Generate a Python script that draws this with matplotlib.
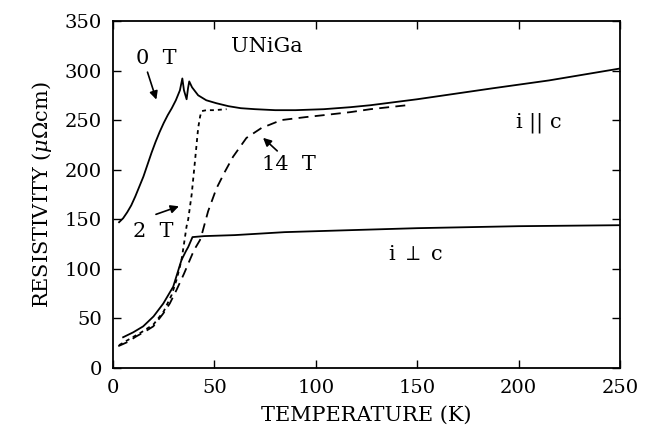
import numpy as np
import matplotlib.pyplot as plt

# UNiGa resistivity vs temperature
# i || c, zero field
t_0T = [3, 5, 7, 9, 11, 13, 15, 17, 19, 21, 23, 25, 27, 29, 31, 33, 34.2, 35, 36.3, 37, 37.6,
        39, 42, 46, 51, 57, 63, 70, 80, 90, 104, 117, 127, 150, 187, 215, 250]
r_0T = [147, 151, 157, 164, 173, 183, 193, 205, 217, 228, 238, 247, 255, 262, 270, 280, 292, 280, 271, 282, 289,
        283, 275, 270, 267, 264, 262, 261, 260, 260, 261, 263, 265, 271, 282, 290, 302]

# 2 T (dotted)
t_2T = [3, 8, 14, 20, 25, 29, 31.5, 33.8, 35, 36.3, 37.1, 38.8, 40.4, 42, 43, 43.7, 46, 50, 56]
r_2T = [23, 29, 36, 44, 57, 74, 90, 109, 125, 143, 150, 175, 208, 242, 254, 259, 260, 260, 261]

# 14 T (dashed)
t_14T = [2.6, 7, 11.6, 16, 19.9, 24.8, 28, 31.4, 35, 37.9, 40, 42.9, 43.7, 46.9, 51, 55.2,
         59.2, 65.8, 73.2, 83, 95, 104, 117, 127, 145]
r_14T = [22, 26, 32, 37, 42, 55, 65, 79, 95, 109, 119, 129, 134, 158, 181, 198,
         213, 232, 242, 250, 253, 255, 258, 261, 265]

# i perp c, zero field
t_perp = [5, 10, 14.9, 20, 24.8, 29.7, 33.8, 36, 37.1, 39.2, 45, 60, 84.7, 117, 150, 200, 250]
r_perp = [31, 36, 42, 52, 65, 82, 109, 118, 122, 132, 133, 134, 137, 139, 141, 143, 144]

plt.rcParams['font.family'] = 'DejaVu Serif'
plt.rcParams['mathtext.fontset'] = 'dejavuserif'

fig = plt.figure(figsize=(6.55, 4.36), dpi=100)
ax = fig.add_axes([0.1725, 0.156, 0.774, 0.796])

ax.plot(t_0T, r_0T, 'k-', lw=1.3)
ax.plot(t_perp, r_perp, 'k-', lw=1.3)
ax.plot(t_2T, r_2T, 'k', lw=1.3, dashes=(2.2, 2.2))
ax.plot(t_14T, r_14T, 'k', lw=1.3, dashes=(5.5, 3.5))

ax.set_xlim(0, 250)
ax.set_ylim(0, 350)
ax.set_xticks([0, 50, 100, 150, 200, 250])
ax.set_yticks([0, 50, 100, 150, 200, 250, 300, 350])
ax.tick_params(direction='in', top=True, right=True, length=6, width=1,
               labelsize=14, pad=8)
for s in ax.spines.values():
    s.set_linewidth(1.3)

ax.set_xlabel('TEMPERATURE (K)', fontsize=15, labelpad=6)
ax.set_ylabel(r'RESISTIVITY ($\mu\Omega$cm)', fontsize=15, labelpad=8)

ax.text(76, 324, 'UNiGa', fontsize=15, ha='center', va='center')
ax.text(21.5, 312, '0  T', fontsize=15, ha='center', va='center')
ax.text(20, 138, '2  T', fontsize=15, ha='center', va='center')
ax.text(87, 205, '14  T', fontsize=15, ha='center', va='center')
ax.text(210, 247, r'i $||$ c', fontsize=15, ha='center', va='center')
ax.text(149, 114, r'i $\perp$ c', fontsize=15, ha='center', va='center')

arr = dict(arrowstyle='-|>', color='k', lw=1.2, mutation_scale=12)
ax.annotate('', xy=(21.8, 268), xytext=(16.6, 301), arrowprops=arr)
ax.annotate('', xy=(33.8, 164), xytext=(19.9, 154), arrowprops=arr)
ax.annotate('', xy=(73, 234), xytext=(82, 217), arrowprops=arr)

fig.savefig('out.png', dpi=100)
